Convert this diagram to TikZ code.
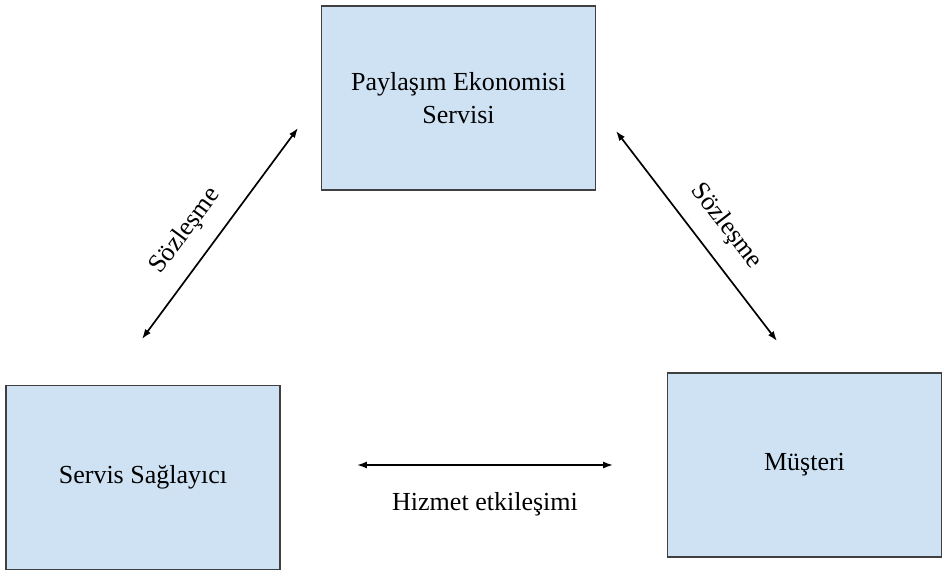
\documentclass[tikz,border=0pt]{standalone}
\usepackage{fontspec}
\setmainfont{Liberation Serif}
\usetikzlibrary{arrows.meta}
\definecolor{boxblue}{HTML}{CFE2F3}

\begin{document}
\begin{tikzpicture}[x=0.025cm, y=-0.025cm,
  every node/.style={font=\fontsize{18.5}{24}\selectfont},
  party/.style={draw=black!75, fill=boxblue, line width=1pt, minimum width=6.85cm, minimum height=4.6cm, align=center},
  deal/.style={{Latex[length=7pt,width=5pt]}-{Latex[length=7pt,width=5pt]}, line width=1.2pt}]

\useasboundingbox (0,0) rectangle (946,574);

\node[party] (platform) at (458.5,98) {Paylaşım Ekonomisi\\Servisi};
\node[party] (provider) at (143,477.5) {Servis Sağlayıcı};
\node[party] (customer) at (804.5,465) {Müşteri};

\coordinate (lt) at (298,128);
\coordinate (lb) at (142,339);
\coordinate (rt) at (616,131);
\coordinate (rb) at (777,341);
\coordinate (hl) at (357,465);
\coordinate (hr) at (613,465);

\draw[deal] (lb) -- node[pos=0.43, sloped, above=0.3cm] {Sözleşme} (lt);
\draw[deal] (rt) -- node[pos=0.54, sloped, above=0.3cm] {Sözleşme} (rb);
\draw[deal] (hl) -- node[below=0.55cm] {Hizmet etkileşimi} (hr);

\end{tikzpicture}
\end{document}
